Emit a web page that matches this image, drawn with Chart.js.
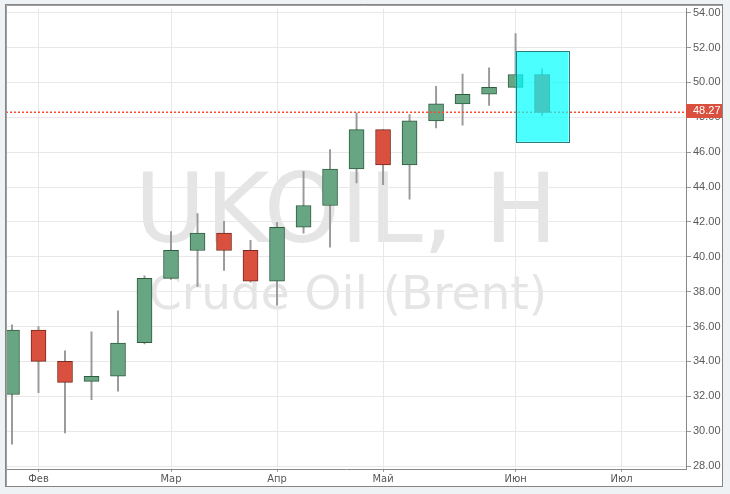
<!DOCTYPE html>
<html>
<head>
<meta charset="utf-8">
<script src="https://cdn.jsdelivr.net/npm/chart.js@4.4.1/dist/chart.umd.min.js"></script>
<style>
  body { margin: 0; background: #eef2f5; }
  canvas { display: block; }
</style>
</head>
<body>
<canvas id="oilChart" width="730" height="494"></canvas>
<script>
// UKOIL weekly candles (week start dates)
const weeks = ["25.01", "01.02", "08.02", "15.02", "22.02", "29.02", "07.03", "14.03", "21.03", "28.03",
  "04.04", "11.04", "18.04", "25.04", "02.05", "09.05", "16.05", "23.05", "30.05", "06.06", "13.06"];
const opens  = [32.10, 35.80, 34.00, 32.85, 33.15, 35.07, 38.76, 40.36, 41.36, 40.37, 38.60,
  41.69, 42.94, 45.03, 47.29, 45.26, 47.79, 48.77, 49.32, 49.71, 50.45];
const highs  = [36.10, 36.00, 34.60, 35.70, 36.90, 38.90, 41.45, 42.47, 42.03, 40.94, 41.97,
  44.88, 46.15, 48.26, 47.30, 48.15, 49.78, 50.48, 50.83, 52.80, 50.77];
const lows   = [29.25, 32.20, 29.90, 31.80, 32.30, 35.00, 38.70, 38.30, 39.22, 38.55, 37.22,
  41.36, 40.55, 44.23, 44.14, 43.30, 47.39, 47.54, 48.68, 49.70, 48.11];
const closes = [35.80, 34.00, 32.80, 33.15, 35.05, 38.76, 40.37, 41.36, 40.36, 38.60, 41.69,
  42.94, 45.03, 47.29, 45.26, 47.79, 48.77, 49.31, 49.71, 50.45, 48.27];

// month labels sit on the first week of each month
const monthWeekIdx = [1, 6, 10, 14, 19, 23];
const monthLabels = ["Фев", "Мар", "Апр", "Май", "Июн", "Июл"];
const priceTicks = [28, 30, 32, 34, 36, 38, 40, 42, 44, 46, 48, 50, 52, 54];

const lastPrice = 48.27;
// highlighted zone: week index range and price range
const zoneWeeks = [19, 21];
const zonePrices = [46.59, 51.79];

const isUp = (i) => closes[i] >= opens[i];

const bodies = weeks.map((w, i) => ({ x: i, y: [opens[i], closes[i]] }));
const wicks = weeks.map((w, i) => ({ x: i, y: [lows[i], highs[i]] }));

const framePlugin = {
  id: "frame",
  beforeDraw(chart) {
    const { ctx, chartArea } = chart;
    ctx.save();
    ctx.fillStyle = "#eef2f5";
    ctx.fillRect(0, 0, chart.width, chart.height);
    ctx.fillStyle = "#ffffff";
    ctx.fillRect(6, 5, 717, 482);
    // watermark
    const cx = (chartArea.left + chartArea.right) / 2;
    const cy = (chartArea.top + chartArea.bottom) / 2;
    ctx.fillStyle = "#e5e5e5";
    ctx.textAlign = "center";
    ctx.textBaseline = "alphabetic";
    ctx.font = '97px "DejaVu Sans"';
    ctx.fillText("UKOIL, H", cx, cy + 3);
    ctx.font = '47px "DejaVu Sans"';
    ctx.fillText("Crude Oil (Brent)", cx + 2, cy + 70);
    ctx.restore();
  },
  afterDatasetsDraw(chart) {
    const { ctx, chartArea, scales } = chart;
    const x = scales.x, y = scales.y;
    ctx.save();
    // last price line
    const py = Math.round(y.getPixelForValue(lastPrice));
    ctx.fillStyle = "#ff4a2e";
    for (let px = chartArea.left; px < chartArea.right; px += 4) {
      ctx.fillRect(px, py - 1.5, 2, 1.5);
    }
    // zone box
    const x1 = x.getPixelForValue(zoneWeeks[0]);
    const x2 = x.getPixelForValue(zoneWeeks[1]);
    const y1 = y.getPixelForValue(zonePrices[1]);
    const y2 = y.getPixelForValue(zonePrices[0]);
    ctx.fillStyle = "rgba(0, 255, 255, 0.7)";
    ctx.fillRect(x1, y1, x2 - x1, y2 - y1);
    ctx.strokeStyle = "#2b7d7d";
    ctx.lineWidth = 1;
    ctx.strokeRect(Math.round(x1) + 0.5, Math.round(y1) + 0.5, Math.round(x2 - x1), Math.round(y2 - y1));
    ctx.restore();
  },
  afterDraw(chart) {
    const { ctx, chartArea, scales } = chart;
    ctx.save();
    // hide the part of the bottom tick label below the plot
    ctx.fillStyle = "#ffffff";
    ctx.fillRect(chartArea.right + 1, chartArea.bottom + 1, 36, 17);
    // price label
    const py = Math.round(scales.y.getPixelForValue(lastPrice));
    ctx.fillStyle = "#d9503f";
    ctx.fillRect(chartArea.right, py - 9, 37, 14);
    ctx.fillStyle = "#ffffff";
    ctx.font = '11px "Liberation Sans", Arial, sans-serif';
    ctx.textBaseline = "middle";
    ctx.textAlign = "left";
    ctx.fillText(lastPrice.toFixed(2), chartArea.right + 7, py - 2);
    // panel border
    ctx.strokeStyle = "#858585";
    ctx.lineWidth = 1;
    ctx.strokeRect(5.5, 4.5, 717, 482);
    ctx.strokeStyle = "#a0a0a0";
    ctx.beginPath();
    ctx.moveTo(6.5, 486);
    ctx.lineTo(6.5, 5.5);
    ctx.lineTo(722, 5.5);
    ctx.stroke();
    ctx.restore();
  },
};

const ctx = document.getElementById("oilChart").getContext("2d");
const chart = new Chart(ctx, {
  type: "bar",
  data: {
    datasets: [
      {
        label: "body",
        data: bodies,
        grouped: false,
        barThickness: 15,
        borderWidth: 1,
        borderSkipped: false,
        backgroundColor: weeks.map((w, i) => (isUp(i) ? "#68a583" : "#d9503f")),
        borderColor: weeks.map((w, i) => (isUp(i) ? "#2e5c3f" : "#7a2a1f")),
      },
      {
        label: "wick",
        data: wicks,
        grouped: false,
        barThickness: 1.3,
        borderWidth: 0,
        backgroundColor: "#9a9a9a",
      },
    ],
  },
  options: {
    responsive: false,
    animation: false,
    layout: { padding: { left: 6, top: 6, right: 7, bottom: 7 } },
    plugins: {
      legend: { display: false },
      tooltip: { enabled: false },
    },
    scales: {
      x: {
        type: "linear",
        offset: false,
        min: -0.226,
        max: 25.43,
        afterBuildTicks: (scale) => {
          scale.ticks = monthWeekIdx.map((v) => ({ value: v }));
        },
        afterFit: (scale) => {
          scale.height = 18;
        },
        ticks: {
          autoSkip: false,
          maxRotation: 0,
          padding: 1,
          color: "#555",
          font: { family: '"Liberation Sans Narrow", "DejaVu Sans Condensed", sans-serif', size: 11 },
          callback: (value, index) => monthLabels[index],
        },
        grid: { offset: false, color: "#e8e8e8", tickColor: "#999", tickLength: 3 },
        border: { color: "#888" },
      },
      y: {
        position: "right",
        min: 27.83,
        max: 54.23,
        afterBuildTicks: (scale) => {
          scale.ticks = priceTicks.map((v) => ({ value: v }));
        },
        afterFit: (scale) => {
          scale.width = 37;
        },
        ticks: {
          padding: 2,
          color: "#5a5a5a",
          font: { family: '"Liberation Sans", Arial, sans-serif', size: 11 },
          callback: (value) => Number(value).toFixed(2),
        },
        grid: { color: "#e8e8e8", tickColor: "#999", tickLength: 5 },
        border: { color: "#888" },
      },
    },
  },
  plugins: [framePlugin],
});
</script>
</body>
</html>
